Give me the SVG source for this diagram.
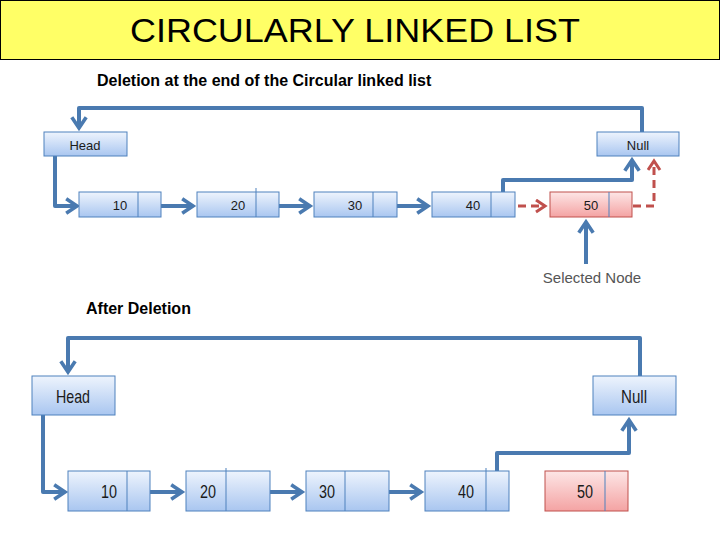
<svg xmlns="http://www.w3.org/2000/svg" width="720" height="540" viewBox="0 0 720 540">
<defs>
<linearGradient id="gb" x1="0" y1="0" x2="0" y2="1"><stop offset="0" stop-color="#eef4fd"/><stop offset="1" stop-color="#a9c6f0"/></linearGradient>
<linearGradient id="gr" x1="0" y1="0" x2="0" y2="1"><stop offset="0" stop-color="#fde6e6"/><stop offset="1" stop-color="#f4a3a3"/></linearGradient>
<marker id="ab" viewBox="0 0 10 10" refX="7" refY="5" markerWidth="4.5" markerHeight="4.5" orient="auto" markerUnits="strokeWidth"><path d="M1,1 L7,5 L1,9" fill="none" stroke="#4a7ab0" stroke-width="2"/></marker>
<marker id="ar" viewBox="0 0 10 10" refX="7" refY="5" markerWidth="5" markerHeight="5" orient="auto" markerUnits="strokeWidth"><path d="M1,1 L7,5 L1,9" fill="none" stroke="#c0504d" stroke-width="2"/></marker>
</defs>
<style>
.b{fill:url(#gb);stroke:#4f81bd;stroke-width:1}
.r{fill:url(#gr);stroke:#c0504d;stroke-width:1}
.d{stroke:#4f81bd;stroke-width:1}
.t{font-family:"Liberation Sans",Arial,sans-serif;font-size:13px;fill:#1a1a1a;text-anchor:middle}
.t2{font-family:"Liberation Sans Narrow","Liberation Sans",Arial,sans-serif;font-size:19px;fill:#1a1a1a;text-anchor:middle}
.c{fill:none;stroke:#4a7ab0;stroke-width:4;stroke-linejoin:round}
.cr{fill:none;stroke:#c0504d;stroke-width:3;stroke-dasharray:8 5}
.h{font-family:"Liberation Sans",Arial,sans-serif;font-weight:bold;font-size:16px;fill:#000}
</style>
<rect x="0.5" y="0.5" width="719" height="59" fill="#ffff66" stroke="#000"/>
<text x="355" y="42" font-family="Liberation Sans,Arial,sans-serif" font-size="34" text-anchor="middle" textLength="450" lengthAdjust="spacingAndGlyphs">CIRCULARLY LINKED LIST</text>
<text class="h" x="97" y="86">Deletion at the end of the Circular linked list</text>
<text class="h" x="86" y="314">After Deletion</text>
<g id="connectors">
<path class="c" d="M642,132 V108 H79 V128" marker-end="url(#ab)"/>
<path class="c" d="M55,156 V206 H77" marker-end="url(#ab)"/>
<path class="c" d="M150,206 H193" marker-end="url(#ab)"/>
<path class="c" d="M268,206 H310" marker-end="url(#ab)"/>
<path class="c" d="M386,206 H428" marker-end="url(#ab)"/>
<path class="c" d="M503,206 V180 H632 V160" marker-end="url(#ab)"/>
<path class="cr" d="M505,206 H545" marker-end="url(#ar)"/>
<path class="cr" d="M620,206 H654 V161" marker-end="url(#ar)"/>
<path class="c" d="M586,264 V222" marker-end="url(#ab)"/>
<path class="c" d="M640,376 V338 H68 V372" marker-end="url(#ab)"/>
<path class="c" d="M43,415 V492 H65" marker-end="url(#ab)"/>
<path class="c" d="M138,492 H182" marker-end="url(#ab)"/>
<path class="c" d="M258,492 H302" marker-end="url(#ab)"/>
<path class="c" d="M377,492 H421" marker-end="url(#ab)"/>
<path class="c" d="M497,488 V453 H629 V420" marker-end="url(#ab)"/>
</g>
<g id="head1"><rect class="b" x="44" y="132" width="83" height="24"/><text class="t" x="85" y="150">Head</text></g>
<g id="null1"><rect class="b" x="597" y="132" width="82" height="24"/><text class="t" x="638" y="150">Null</text></g>
<g id="n10a"><rect class="b" x="79" y="192" width="82" height="25"/><line class="d" x1="138" y1="192" x2="138" y2="217"/><text class="t" x="120" y="210">10</text></g>
<g id="n20a"><rect class="b" x="197" y="192" width="82" height="25"/><line class="d" x1="256" y1="188" x2="256" y2="217"/><text class="t" x="238" y="210">20</text></g>
<g id="n30a"><rect class="b" x="314" y="192" width="83" height="25"/><line class="d" x1="373" y1="192" x2="373" y2="217"/><text class="t" x="355" y="210">30</text></g>
<g id="n40a"><rect class="b" x="432" y="192" width="83" height="25"/><line class="d" x1="491" y1="192" x2="491" y2="217"/><text class="t" x="473" y="210">40</text></g>
<g id="n50a"><rect class="r" x="550" y="192" width="82" height="25"/><line class="d" x1="609" y1="192" x2="609" y2="217"/><text class="t" x="591" y="210">50</text></g>
<text x="592" y="283" font-family="Liberation Sans,Arial,sans-serif" font-size="15" fill="#555" text-anchor="middle">Selected Node</text>
<g id="head2"><rect class="b" x="32" y="376" width="83" height="39"/><text class="t2" x="73" y="403" textLength="34" lengthAdjust="spacingAndGlyphs">Head</text></g>
<g id="null2"><rect class="b" x="593" y="376" width="83" height="39"/><text class="t2" x="634" y="403" textLength="26" lengthAdjust="spacingAndGlyphs">Null</text></g>
<g id="n10b"><rect class="b" x="68" y="471" width="82" height="40"/><line class="d" x1="127" y1="471" x2="127" y2="511"/><text class="t2" x="109" y="498" textLength="16" lengthAdjust="spacingAndGlyphs">10</text></g>
<g id="n20b"><rect class="b" x="186" y="471" width="84" height="40"/><line class="d" x1="226" y1="468" x2="226" y2="511"/><text class="t2" x="208" y="498" textLength="16" lengthAdjust="spacingAndGlyphs">20</text></g>
<g id="n30b"><rect class="b" x="306" y="471" width="83" height="40"/><line class="d" x1="345" y1="471" x2="345" y2="511"/><text class="t2" x="327" y="498" textLength="16" lengthAdjust="spacingAndGlyphs">30</text></g>
<g id="n40b"><rect class="b" x="425" y="471" width="84" height="40"/><line class="d" x1="486" y1="468" x2="486" y2="511"/><text class="t2" x="466" y="498" textLength="16" lengthAdjust="spacingAndGlyphs">40</text></g>
<g id="n50b"><rect class="r" x="545" y="471" width="83" height="40"/><line class="d" x1="605" y1="471" x2="605" y2="511"/><text class="t2" x="585" y="498" textLength="16" lengthAdjust="spacingAndGlyphs">50</text></g>
</svg>
